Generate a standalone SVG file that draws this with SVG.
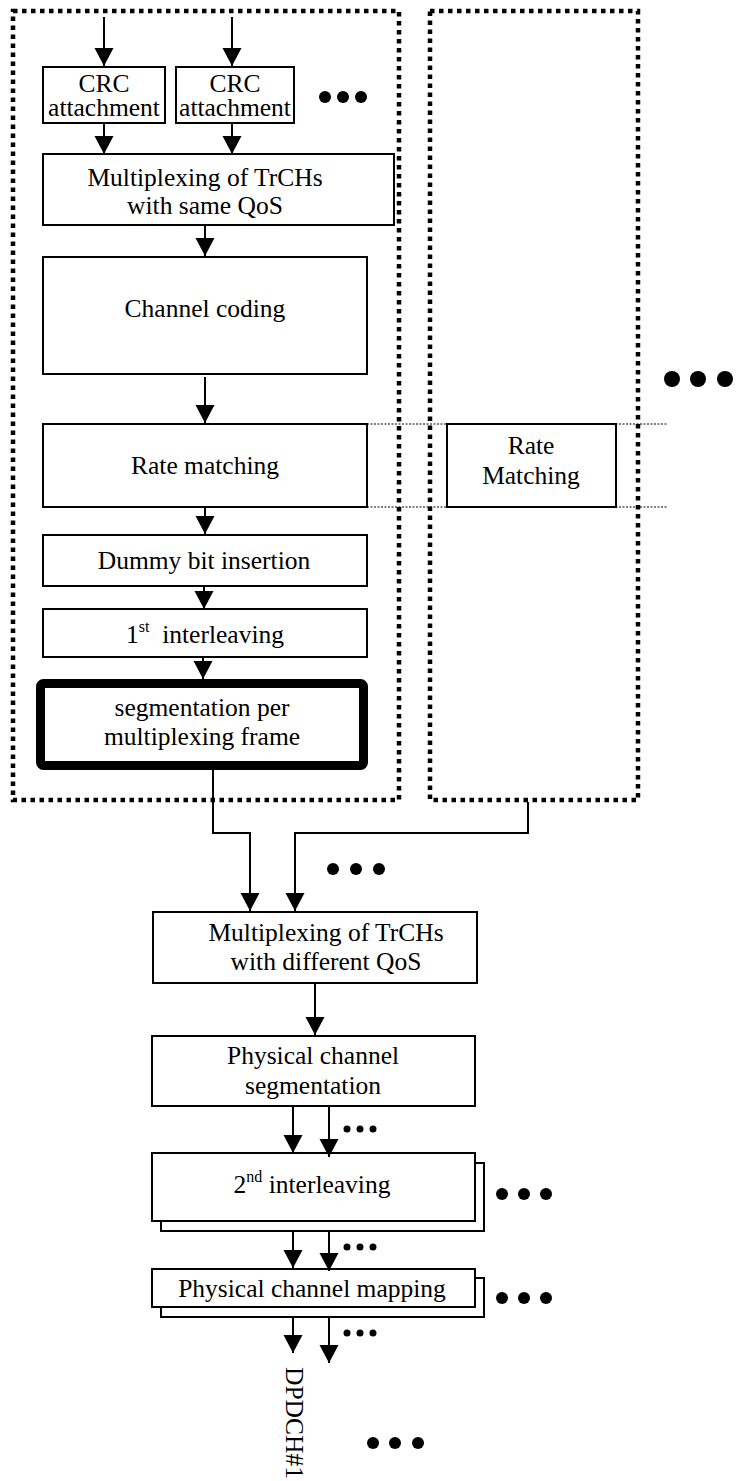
<svg xmlns="http://www.w3.org/2000/svg" width="736" height="1481" viewBox="0 0 736 1481">
<defs>
<marker id="ah" markerUnits="userSpaceOnUse" markerWidth="18" markerHeight="20" refX="18" refY="9.5" orient="auto" viewBox="0 0 18 19">
<path d="M0,0 L18,9.5 L0,19 z" fill="#000"/>
</marker>
</defs>
<style>
.box{fill:#fff;stroke:#000;stroke-width:2}
.grp{fill:none;stroke:#000;stroke-width:4.5;stroke-dasharray:4.5 4.5}
.thin{fill:none;stroke:#000;stroke-width:1;stroke-dasharray:2 1.5}
.arr{fill:none;stroke:#000;stroke-width:2;marker-end:url(#ah)}
text{font-family:"Liberation Serif","Times New Roman",serif;font-size:25.5px;fill:#000;text-anchor:middle}
.sup{font-size:16px}
.dot{fill:#000}
</style>
<rect width="736" height="1481" fill="#fff"/>

<g id="frames">
<rect class="grp" x="13" y="11" width="386" height="789"/>
<rect class="grp" x="430" y="11" width="208" height="789"/>
</g>

<g id="guides">
<line class="thin" x1="367" y1="424" x2="667" y2="424"/>
<line class="thin" x1="367" y1="507" x2="667" y2="507"/>
</g>

<g id="crc1">
<rect class="box" x="43" y="67" width="122" height="56"/>
<text x="104" y="92">CRC<tspan x="104" dy="24">attachment</tspan></text>
</g>
<g id="crc2">
<rect class="box" x="176" y="67" width="118" height="56"/>
<text x="235" y="92">CRC<tspan x="235" dy="24">attachment</tspan></text>
</g>
<g id="dots-crc">
<circle class="dot" cx="325" cy="97" r="6"/>
<circle class="dot" cx="343" cy="97" r="6"/>
<circle class="dot" cx="361" cy="97" r="6"/>
</g>

<g id="mux-same">
<rect class="box" x="43" y="154" width="351" height="71"/>
<text x="205" y="186">Multiplexing of TrCHs<tspan x="205" dy="28">with same QoS</tspan></text>
</g>

<g id="channel-coding">
<rect class="box" x="43" y="257" width="324" height="117"/>
<text x="205" y="317">Channel coding</text>
</g>

<g id="rate-matching">
<rect class="box" x="43" y="424" width="324" height="83"/>
<text x="205" y="474">Rate matching</text>
</g>

<g id="rate-matching-2">
<rect class="box" x="447" y="424" width="169" height="83"/>
<text x="531" y="454">Rate<tspan x="531" dy="30">Matching</tspan></text>
</g>

<g id="dots-right">
<circle class="dot" cx="672" cy="379" r="8"/>
<circle class="dot" cx="698" cy="379" r="8"/>
<circle class="dot" cx="725" cy="379" r="8"/>
</g>

<g id="dummy">
<rect class="box" x="43" y="535" width="324" height="51"/>
<text x="204" y="569">Dummy bit insertion</text>
</g>

<g id="interleaving1">
<rect class="box" x="43" y="609" width="324" height="48"/>
<text x="205" y="643">1<tspan class="sup" dy="-11">st</tspan><tspan dy="11" xml:space="preserve">  interleaving</tspan></text>
</g>

<g id="segmentation">
<rect x="40.5" y="683.5" width="323" height="82" rx="3" fill="#fff" stroke="#000" stroke-width="9"/>
<text x="202" y="716">segmentation per<tspan x="202" dy="29">multiplexing frame</tspan></text>
</g>

<g id="dots-mid">
<circle class="dot" cx="333" cy="869" r="6"/>
<circle class="dot" cx="356" cy="869" r="6"/>
<circle class="dot" cx="379" cy="869" r="6"/>
</g>

<g id="mux-diff">
<rect class="box" x="153" y="912" width="324" height="71"/>
<text x="326" y="941">Multiplexing of TrCHs<tspan x="326" dy="29">with different QoS</tspan></text>
</g>

<g id="phys-seg">
<rect class="box" x="152" y="1036" width="323" height="70"/>
<text x="313" y="1064">Physical channel<tspan x="313" dy="30">segmentation</tspan></text>
</g>

<g id="dots-s1">
<circle class="dot" cx="347" cy="1129" r="3.5"/>
<circle class="dot" cx="360" cy="1129" r="3.5"/>
<circle class="dot" cx="373" cy="1129" r="3.5"/>
</g>

<g id="interleaving2">
<rect class="box" x="161" y="1163" width="323" height="68"/>
<rect class="box" x="152" y="1153" width="323" height="68"/>
<text x="312" y="1193">2<tspan class="sup" dy="-11">nd</tspan><tspan dy="11"> interleaving</tspan></text>
</g>
<g id="dots-i2">
<circle class="dot" cx="502" cy="1194" r="6"/>
<circle class="dot" cx="524" cy="1194" r="6"/>
<circle class="dot" cx="546" cy="1194" r="6"/>
</g>
<g id="dots-s2">
<circle class="dot" cx="347" cy="1247" r="3.5"/>
<circle class="dot" cx="360" cy="1247" r="3.5"/>
<circle class="dot" cx="373" cy="1247" r="3.5"/>
</g>

<g id="phys-map">
<rect class="box" x="161" y="1278" width="323" height="39"/>
<rect class="box" x="152" y="1269" width="323" height="38"/>
<text x="312" y="1297">Physical channel mapping</text>
</g>
<g id="dots-m">
<circle class="dot" cx="502" cy="1298" r="6"/>
<circle class="dot" cx="524" cy="1298" r="6"/>
<circle class="dot" cx="546" cy="1298" r="6"/>
</g>
<g id="dots-s3">
<circle class="dot" cx="347" cy="1333" r="3.5"/>
<circle class="dot" cx="360" cy="1333" r="3.5"/>
<circle class="dot" cx="373" cy="1333" r="3.5"/>
</g>

<g id="dpdch">
<text transform="translate(286,1367) rotate(90)" style="text-anchor:start">DPDCH#1</text>
</g>
<g id="dots-bottom">
<circle class="dot" cx="373" cy="1443" r="6"/>
<circle class="dot" cx="395" cy="1443" r="6"/>
<circle class="dot" cx="418" cy="1443" r="6"/>
</g>

<g id="connectors">
<line class="arr" x1="104" y1="17" x2="104" y2="66"/>
<line class="arr" x1="232" y1="17" x2="232" y2="66"/>
<line class="arr" x1="104" y1="124" x2="104" y2="154"/>
<line class="arr" x1="232" y1="124" x2="232" y2="154"/>
<line class="arr" x1="205" y1="226" x2="205" y2="256"/>
<line class="arr" x1="205" y1="377" x2="205" y2="423"/>
<line class="arr" x1="205" y1="508" x2="205" y2="534"/>
<line class="arr" x1="204" y1="587" x2="204" y2="609"/>
<line class="arr" x1="203" y1="658" x2="203" y2="679"/>
<polyline class="arr" points="213,770 213,833 250,833 250,911"/>
<polyline class="arr" points="528,802 528,833 295,833 295,911"/>
<line class="arr" x1="315" y1="984" x2="315" y2="1035"/>
<line class="arr" x1="293" y1="1107" x2="293" y2="1153"/>
<line class="arr" x1="329" y1="1107" x2="329" y2="1157"/>
<line class="arr" x1="293" y1="1232" x2="293" y2="1268"/>
<line class="arr" x1="329" y1="1232" x2="329" y2="1271"/>
<line class="arr" x1="293" y1="1318" x2="293" y2="1353"/>
<line class="arr" x1="329" y1="1318" x2="329" y2="1363"/>
</g>
</svg>
